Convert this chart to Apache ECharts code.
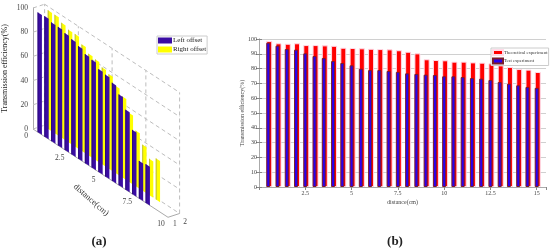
<!DOCTYPE html>
<html><head><meta charset="utf-8">
<style>html,body{margin:0;padding:0;background:#fff}#c{width:550px;height:249px}</style>
<script src="https://cdn.jsdelivr.net/npm/echarts@6/dist/echarts.min.js"></script>
</head><body><div id="c"></div>
<script>
const leftDistances=[0.5,1,1.5,2,2.5,3,3.5,4,4.5,5,5.5,6,6.5,7,7.5,8,8.5];
const leftOffset=[99,99.5,98,98,96.5,95,93,90,89,85,84,81,75,66,53,31,32];
const rightOffset=[98,98,95,93,93,88,84,83,80,78,72,67,57,46,38,30,34];
const distanceTicks=[0,2.5,5,7.5,10];
const depthTicks=[1,2];
const wallValues=[0,20,40,60,80,100];

const rightDistances=[0.5,1,1.5,2,2.5,3,3.5,4,4.5,5,5.5,6,6.5,7,7.5,8,8.5,9,9.5,10,10.5,11,11.5,12,12.5,13,13.5,14,14.5,15];
const theoretical=[98.6,97.1,96.8,97.1,95.9,95.9,95.7,95.4,94.1,93.9,93.7,93.4,93.2,93,92.4,91.4,90.3,86.3,85.8,85.6,84.7,84.7,84.2,84,83.6,82.2,81.1,79.7,79.3,77.7];
const test=[97.5,95.5,93.2,92.8,90.3,88.5,87.2,85.1,83.8,82.2,79.9,79,79,78.4,77.8,76.8,76.4,75.9,75.7,74.8,74.8,74.3,73.6,73.2,72.3,70.9,69.8,68.7,67.6,67];

const SLOPE=0.654, DX=5.8, DY=-1.9, serif='"Liberation Serif"';
function P(api,d,v,depth){
  const c=api.coord([d,v]), x0=api.coord([0,0])[0];
  return [c[0]+depth*DX, c[1]+(c[0]-x0)*SLOPE+depth*DY];
}
function barItem(depth,face,side){
  return function(params,api){
    const d=api.value(0),v=api.value(1),w=0.16;
    const poly=(a,b,fill)=>({type:'polygon',shape:{points:[P(api,d+a,0,depth),P(api,d+b,0,depth),P(api,d+b,v,depth),P(api,d+a,v,depth)]},style:{fill}});
    return {type:'group',children:[poly(-w,w,face),poly(-w,-w+0.07,side)]};
  };
}
const lineStyle={stroke:'#bdbdbd',lineWidth:1,lineDash:[4,3]};
function wallH(params,api){
  const v=api.value(1),a=P(api,0,v,2),b=P(api,10,v,2),c=P(api,0,v,0);
  return {type:'group',children:[
    {type:'line',shape:{x1:a[0],y1:a[1],x2:b[0],y2:b[1]},style:lineStyle},
    {type:'line',shape:{x1:c[0],y1:c[1],x2:a[0],y2:a[1]},style:lineStyle}]};
}
function wallV(params,api){
  const d=api.value(0),a=P(api,d,0,2),b=P(api,d,100,2);
  return {type:'line',shape:{x1:a[0],y1:a[1],x2:b[0],y2:b[1]},style:lineStyle};
}
function tickLabel(params,api){
  const d=api.value(0),a=P(api,d,0,0);
  return {type:'text',style:{text:String(d),x:a[0]-7,y:a[1]+7,align:'center',verticalAlign:'middle',font:'7.5px '+serif,fill:'#444'}};
}
function depthLabel(params,api){
  const dp=api.value(1),a=P(api,10,0,dp);
  return {type:'text',style:{text:String(dp),x:a[0]+dp*4.4-3.4,y:a[1]+8.5,align:'center',verticalAlign:'middle',font:'7.5px '+serif,fill:'#444'}};
}
function frontAxis(params,api){
  const o=P(api,0,0,0),e=P(api,10,0,0),b=P(api,10,0,2);
  return {type:'group',children:[
    {type:'line',shape:{x1:o[0],y1:o[1],x2:e[0],y2:e[1]},style:{stroke:'#aaa',lineWidth:1}},
    {type:'line',shape:{x1:e[0],y1:e[1],x2:b[0],y2:b[1]},style:{stroke:'#aaa',lineWidth:1}},
    {type:'text',style:{text:'distance(cm)',x:91,y:200,align:'center',verticalAlign:'middle',font:'8.5px '+serif,fill:'#333'},rotation:-0.72,originX:91,originY:200}
  ]};
}
const customBase={type:'custom',xAxisIndex:0,yAxisIndex:0,silent:true,clip:false,encode:{x:0,y:1}};
const axisText={color:'#444',fontFamily:serif};

const option={
  animation:false,
  backgroundColor:'#fff',
  title:[
    {text:'(a)',left:99,top:235,textAlign:'center',textStyle:{fontFamily:serif,fontWeight:'bold',fontSize:13,color:'#222'},padding:0},
    {text:'(b)',left:395,top:235,textAlign:'center',textStyle:{fontFamily:serif,fontWeight:'bold',fontSize:13,color:'#222'},padding:0}
  ],
  legend:[
    {data:['Left offset','Right offset'],left:157,top:36,orient:'vertical',itemWidth:14,itemHeight:6,itemGap:2,padding:[1,1,1,1],
     borderColor:'#ccc',borderWidth:1,backgroundColor:'#fff',icon:'rect',selectedMode:false,
     textStyle:{fontFamily:serif,fontSize:7,color:'#222',padding:[0,0,0,-4]}},
    {data:['Theoretical experiment','Test experiment'],left:491,top:48,orient:'vertical',itemWidth:10,itemHeight:5,itemGap:1.5,padding:[1,1,1,1],
     borderColor:'#ccc',borderWidth:1,backgroundColor:'#fff',icon:'rect',selectedMode:false,
     textStyle:{fontFamily:serif,fontSize:4.7,color:'#333',padding:[0,0,0,-4]}}
  ],
  grid:[
    {left:32,top:8,width:136,height:121,containLabel:false},
    {left:259,top:39,width:287,height:148,containLabel:false}
  ],
  xAxis:[
    {type:'value',gridIndex:0,min:0,max:10,show:false},
    {type:'value',gridIndex:1,min:0,max:15.5,interval:2.5,position:'bottom',
     axisLine:{show:true,onZero:false,lineStyle:{color:'#999'}},axisTick:{show:false},splitLine:{show:false},
     axisLabel:{...axisText,fontSize:6,margin:3,showMaxLabel:false,showMinLabel:false,formatter:v=>String(v)},
     name:'distance(cm)',nameLocation:'middle',nameGap:12,nameMoveOverlap:false,nameTextStyle:{...axisText,fontSize:6}},
    {type:'value',gridIndex:1,min:0,max:15.5,interval:2.5,position:'top',
     axisLine:{show:true,lineStyle:{color:'#aaa'}},axisTick:{show:true,inside:true,length:3,lineStyle:{color:'#888'}},axisLabel:{show:false},splitLine:{show:false}}
  ],
  yAxis:[
    {type:'value',gridIndex:0,min:0,max:100,interval:20,position:'left',
     axisLine:{show:true,lineStyle:{color:'#aaa'}},axisTick:{show:false},splitLine:{show:false},
     axisLabel:{...axisText,fontSize:7.5,margin:5},
     name:'Transmission efficiency(%)',nameLocation:'middle',nameGap:24,nameMoveOverlap:false,nameRotate:90,nameTextStyle:{...axisText,color:'#222',fontSize:8}},
    {type:'value',gridIndex:1,min:0,max:100,interval:10,position:'left',
     axisLine:{show:true,lineStyle:{color:'#aaa'}},axisTick:{show:true,inside:true,length:3,lineStyle:{color:'#888'}},
     splitLine:{show:true,lineStyle:{color:'rgba(120,120,120,0.35)',width:1}},
     axisLabel:{...axisText,fontSize:6,margin:2},
     name:'Transmission efficiency(%)',nameLocation:'middle',nameGap:14,nameMoveOverlap:false,nameRotate:90,nameTextStyle:{...axisText,fontSize:6}},
    {type:'value',gridIndex:1,min:0,max:100,interval:10,position:'right',
     axisLine:{show:true,lineStyle:{color:'#aaa'}},axisTick:{show:true,inside:true,length:3,lineStyle:{color:'#888'}},axisLabel:{show:false},splitLine:{show:false}}
  ],
  series:[
    {...customBase,name:'wallH',renderItem:wallH,data:wallValues.map(v=>[0,v])},
    {...customBase,name:'wallV',renderItem:wallV,data:distanceTicks.map(d=>[d,0])},
    {...customBase,name:'frontAxis',renderItem:frontAxis,data:[[0,0]]},
    {...customBase,name:'tickLabels',renderItem:tickLabel,data:distanceTicks.map(d=>[d,0])},
    {...customBase,name:'depthLabels',renderItem:depthLabel,data:depthTicks.map(d=>[10,d])},
    {...customBase,name:'Right offset',renderItem:barItem(1.75,'#ffff00','#b9b944'),itemStyle:{color:'#ffff00'},data:leftDistances.map((d,i)=>[d,rightOffset[i]])},
    {...customBase,name:'Left offset',renderItem:barItem(0,'#3a0ca3','#2a0a78'),itemStyle:{color:'#3a0ca3'},data:leftDistances.map((d,i)=>[d,leftOffset[i]])},
    {type:'bar',name:'Theoretical experiment',xAxisIndex:1,yAxisIndex:1,barWidth:6,barGap:'-100%',silent:true,
     itemStyle:{color:'#ff0000',borderColor:'#ffdbe8',borderWidth:1},data:rightDistances.map((d,i)=>[d,theoretical[i]])},
    {type:'bar',name:'Test experiment',xAxisIndex:1,yAxisIndex:1,barWidth:4,barGap:'-100%',silent:true,
     itemStyle:{color:'#2a00f0',borderColor:'#7a1c2c',borderWidth:1},data:rightDistances.map((d,i)=>[d,test[i]])}
  ]
};
const chart=echarts.init(document.getElementById('c'),null,{renderer:'canvas'});
chart.setOption(option);
</script></body></html>
